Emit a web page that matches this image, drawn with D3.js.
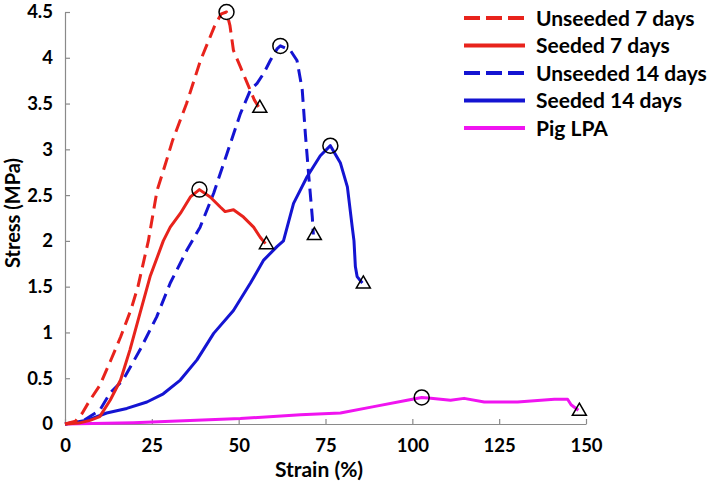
<!DOCTYPE html>
<html>
<head>
<meta charset="utf-8">
<title>Stress-strain</title>
<script src="https://cdn.jsdelivr.net/npm/d3@7"></script>
<style>
  body { margin: 0; background: #fff; }
  text { font-family: Lato, "Open Sans", sans-serif; font-weight: bold; fill: #000; }
</style>
</head>
<body>
<script>
// strain (%) / stress (MPa)
var unseeded7 = [[0,0],[3,0.03],[5,0.12],[7,0.25],[10,0.42],[13,0.68],[16,0.95],[19,1.25],[21,1.5],[24,2.0],[26.5,2.55],[29,2.85],[31,3.1],[35,3.5],[39,3.97],[43,4.34],[45,4.48],[46.5,4.5],[47.5,4.35],[48.5,4.08],[50.5,3.9],[52.5,3.72],[54.5,3.54],[55.8,3.46]];
var seeded7 = [[0,0],[4,0.01],[7.2,0.04],[10,0.08],[13,0.26],[16,0.48],[18.7,0.81],[21.6,1.21],[24.5,1.61],[28.3,2.0],[30.3,2.15],[33.2,2.3],[36.1,2.48],[38.7,2.56],[41.8,2.48],[44.7,2.37],[46.1,2.32],[48.5,2.34],[51.4,2.26],[54.3,2.15],[56.2,2.04],[57.7,1.97]];
var unseeded14 = [[0,0],[5,0.03],[10,0.15],[13,0.34],[16.7,0.48],[21.6,0.81],[26.4,1.17],[30.3,1.54],[35.1,1.9],[38.9,2.15],[42.8,2.52],[46.6,2.95],[50.5,3.39],[53.4,3.65],[55.3,3.72],[57.2,3.83],[59.1,3.97],[61.1,4.1],[62,4.13],[64.9,4.08],[66.8,3.97],[68.3,3.65],[69.2,3.17],[70.2,2.7],[71.2,2.26],[71.5,2.07]];
var seeded14 = [[0,0],[3,0.02],[6.3,0.04],[12,0.12],[17.8,0.17],[23.6,0.24],[28.3,0.33],[33.2,0.48],[38,0.7],[42.8,0.99],[48.5,1.24],[53.4,1.54],[57.2,1.79],[61.1,1.94],[62.9,2.0],[65.8,2.41],[69.7,2.7],[73.5,2.93],[76.4,3.04],[79.3,2.85],[81.3,2.59],[82.7,2.15],[83.2,2.0],[83.6,1.72],[84.1,1.61],[85.6,1.54]];
var pigLPA = [[0,0],[19.7,0.015],[50.5,0.06],[67.8,0.1],[79.3,0.12],[88.9,0.19],[98.5,0.26],[102.7,0.29],[105.3,0.28],[111,0.26],[114.9,0.28],[120.7,0.24],[130.3,0.24],[140.9,0.27],[144.7,0.27],[145.7,0.21],[147.8,0.15]];

var seriesNames = ["Unseeded 7 days", "Seeded 7 days", "Unseeded 14 days", "Seeded 14 days", "Pig LPA"];
var seriesData = [unseeded7, seeded7, unseeded14, seeded14, pigLPA];
var seriesColors = ["#e8231c", "#e8231c", "#1414d2", "#1414d2", "#f014f0"];
var seriesDashed = [true, false, true, false, false];

var xTicks = [0, 25, 50, 75, 100, 125, 150];
var yTicks = [0, 0.5, 1, 1.5, 2, 2.5, 3, 3.5, 4, 4.5];

var W = 709, H = 482;
var svg = d3.select("body").append("svg").attr("width", W).attr("height", H);

var x = d3.scaleLinear().domain([0, 150]).range([65, 586]);
var y = d3.scaleLinear().domain([0, 4.5]).range([424, 12]);

// axes
var xAxis = svg.append("g")
    .attr("transform", "translate(0," + y(0) + ")")
    .call(d3.axisBottom(x).tickValues(xTicks).tickSizeInner(-5).tickSizeOuter(0).tickPadding(15));
var yAxis = svg.append("g")
    .attr("transform", "translate(" + x(0) + ",0)")
    .call(d3.axisLeft(y).tickValues(yTicks).tickSizeInner(-5).tickSizeOuter(0).tickPadding(12)
        .tickFormat(function(d) { return d; }));

[xAxis, yAxis].forEach(function(a) {
    a.select(".domain").attr("stroke", "#8a8a8a").attr("stroke-width", 1.2);
    a.selectAll(".tick line").attr("stroke", "#8a8a8a").attr("stroke-width", 1.2);
    a.selectAll(".tick text").attr("font-size", 18.5).attr("font-family", "Lato, sans-serif")
        .attr("font-weight", "bold").attr("fill", "#000");
});

svg.append("text").attr("x", 319).attr("y", 477).attr("text-anchor", "middle")
    .attr("font-size", 21).text("Strain (%)");
svg.append("text").attr("transform", "translate(20,213) rotate(-90)").attr("text-anchor", "middle")
    .attr("font-size", 20).text("Stress (MPa)");

var line = d3.line()
    .x(function(d) { return x(d[0]); })
    .y(function(d) { return y(d[1]); });

// pig first so the others lie on top
var order = [4, 3, 2, 1, 0];
order.forEach(function(i) {
    svg.append("path")
        .attr("d", line(seriesData[i]))
        .attr("fill", "none")
        .attr("stroke", seriesColors[i])
        .attr("stroke-width", 3)
        .attr("stroke-linejoin", "round")
        .attr("stroke-dasharray", seriesDashed[i] ? "13,7" : null);
});

// markers: circle at max stress, triangle at failure
seriesData.forEach(function(s) {
    var peak = s.reduce(function(a, b) { return b[1] > a[1] ? b : a; });
    var last = s[s.length - 1];
    svg.append("circle")
        .attr("cx", x(peak[0])).attr("cy", y(peak[1])).attr("r", 7.5)
        .attr("fill", "none").attr("stroke", "#000").attr("stroke-width", 1.5);
    svg.append("path")
        .attr("d", d3.symbol().type(d3.symbolTriangle).size(85)())
        .attr("transform", "translate(" + (x(last[0]) + 1) + "," + (y(last[1]) + 1) + ")")
        .attr("fill", "none").attr("stroke", "#000").attr("stroke-width", 1.5);
});

// legend
var lg = svg.append("g");
seriesNames.forEach(function(n, i) {
    var ly = 18 + i * 27.5;
    lg.append("line")
        .attr("x1", 464).attr("x2", 525).attr("y1", ly).attr("y2", ly)
        .attr("stroke", seriesColors[i]).attr("stroke-width", 4)
        .attr("stroke-dasharray", seriesDashed[i] ? "16,6" : null);
    lg.append("text").attr("x", 536).attr("y", ly + 7.5).attr("font-size", 21).text(n);
});
</script>
</body>
</html>
